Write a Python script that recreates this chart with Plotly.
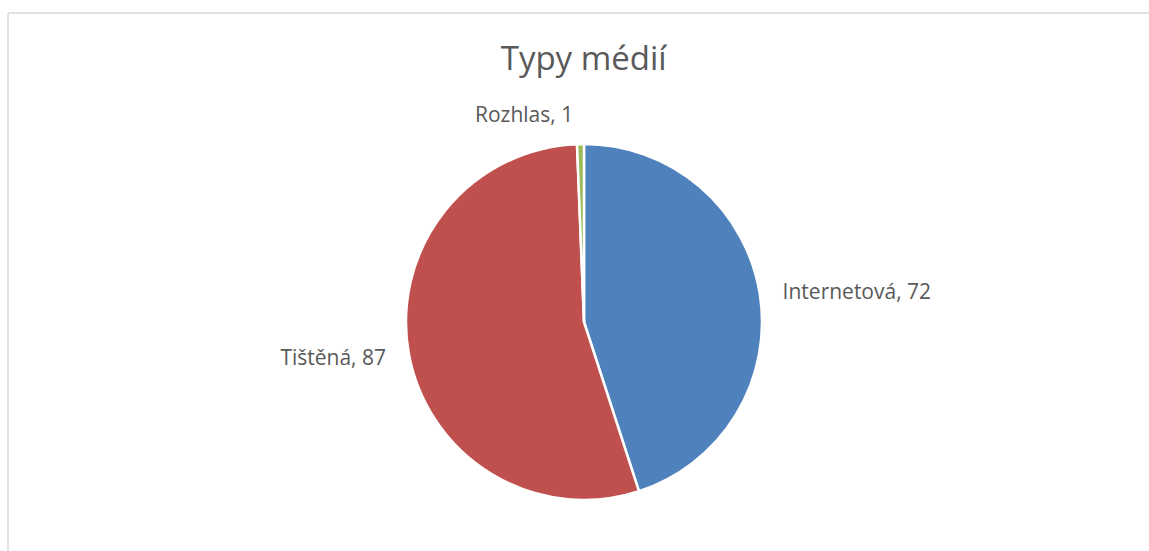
import plotly.graph_objects as go

labels = ["Internetová", "Tištěná", "Rozhlas"]
values = [72, 87, 1]
colors = ["#4F81BD", "#C0504D", "#9BBB59"]

W, H = 1149, 551
cx, cy, r = 584, 322, 178
rt = 194  # radius of the transparent label-carrying pie


def dom(rad):
    return dict(x=[(cx - rad) / W, (cx + rad) / W], y=[(H - cy - rad) / H, (H - cy + rad) / H])


fig = go.Figure()
fig.add_trace(go.Pie(
    labels=labels, values=values, sort=False, direction="clockwise", rotation=0,
    marker=dict(colors=colors, line=dict(color="white", width=2.5)),
    textinfo="none", domain=dom(r), showlegend=False, hoverinfo="label+value",
))
fig.add_trace(go.Pie(
    labels=labels, values=values, sort=False, direction="clockwise", rotation=0,
    marker=dict(colors=["rgba(0,0,0,0)"] * 3, line=dict(width=0)),
    texttemplate="%{label}, %{value}", textposition="outside",
    textfont=dict(family="Open Sans", size=21, color="#595959"),
    domain=dom(rt), showlegend=False, hoverinfo="skip",
))
fig.update_layout(
    width=W, height=H, margin=dict(l=0, r=0, t=0, b=0),
    paper_bgcolor="white", plot_bgcolor="white",
    title=dict(text="Typy médií", x=0.508, xanchor="center", y=1 - 58 / H, yanchor="middle",
               font=dict(family="Open Sans", size=33, color="#595959")),
    shapes=[
        dict(type="line", xref="paper", yref="paper", x0=8 / W, x1=1.01, y0=1 - 13 / H, y1=1 - 13 / H,
             line=dict(color="#D9D9D9", width=1.5)),
        dict(type="line", xref="paper", yref="paper", x0=8 / W, x1=8 / W, y0=1 - 13 / H, y1=-0.01,
             line=dict(color="#D9D9D9", width=1.5)),
    ],
)
fig.write_html("out.html")
